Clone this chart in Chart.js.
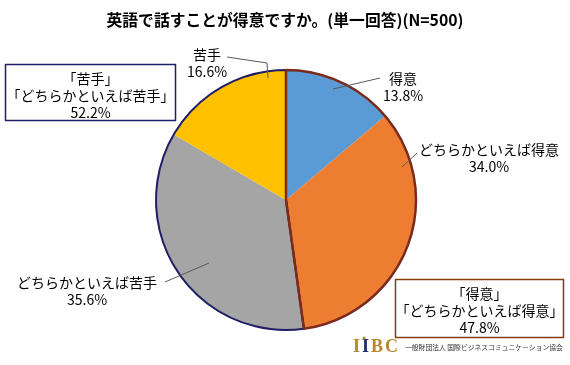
<!DOCTYPE html>
<html lang="ja">
<head>
<meta charset="UTF-8">
<title>英語で話すことが得意ですか。</title>
<script src="https://cdn.jsdelivr.net/npm/chart.js"></script>
<style>
  html, body { margin: 0; padding: 0; background: #fff; }
  #wrap { width: 570px; height: 365px; }
</style>
</head>
<body>
<div id="wrap"><canvas id="chart" width="570" height="365"></canvas></div>
<script>
const titleText = '英語で話すことが得意ですか。(単一回答)(N=500)';
const categories = ['得意', 'どちらかといえば得意', 'どちらかといえば苦手', '苦手'];
const shares = [13.8, 34.0, 35.6, 16.6];
const sliceColors = ['#5B9BD5', '#ED7D31', '#A5A5A5', '#FFC000'];
const groupTitles = [['「得意」', '「どちらかといえば得意」'], ['「苦手」', '「どちらかといえば苦手」']];
const groupShares = [47.8, 52.2];

const FONT = '"Noto Sans CJK JP", "Noto Sans", sans-serif';

// label placement relative to pie centre: text centre, leader start, leader bend/end
const labelSpots = [
  { tx: 117, ty: -121, line: [[47, -111], [94, -122]] },
  { tx: 203, ty: -50, line: [[116, -33], [131, -47]] },
  { tx: -199, ty: 83, line: [[-77, 63], [-121, 82]] },
  { tx: -79, ty: -145, line: [[-18, -122], [-19, -137], [-59, -143]] }
];

const overlay = {
  id: 'overlay',
  afterDraw(chart) {
    const ctx = chart.ctx;
    const arcs = chart.getDatasetMeta(0).data;
    const cx = arcs[0].x, cy = arcs[0].y, r = arcs[0].outerRadius;
    ctx.save();

    // group outlines
    const outline = (a0, a1, color, w) => {
      ctx.beginPath();
      ctx.moveTo(cx, cy);
      ctx.arc(cx, cy, r, a0, a1);
      ctx.closePath();
      ctx.strokeStyle = color;
      ctx.lineWidth = w;
      ctx.lineJoin = 'round';
      ctx.stroke();
    };
    outline(arcs[2].startAngle, arcs[3].endAngle, '#1F1F66', 2);
    outline(arcs[0].startAngle, arcs[1].endAngle, '#7B2A1E', 2.5);

    // title
    ctx.fillStyle = '#000';
    ctx.font = 'bold 15.8px ' + FONT;
    ctx.textAlign = 'center';
    ctx.textBaseline = 'middle';
    ctx.fillText(titleText, 285, 20);

    // slice labels with leader lines
    ctx.font = '14px ' + FONT;
    ctx.strokeStyle = '#595959';
    ctx.lineWidth = 1;
    labelSpots.forEach((s, i) => {
      ctx.beginPath();
      s.line.forEach((p, j) => {
        if (j === 0) ctx.moveTo(cx + p[0], cy + p[1]);
        else ctx.lineTo(cx + p[0], cy + p[1]);
      });
      ctx.stroke();
      ctx.fillStyle = '#000';
      ctx.fillText(categories[i], cx + s.tx, cy + s.ty);
      ctx.fillText(shares[i].toFixed(1) + '%', cx + s.tx, cy + s.ty + 17);
    });

    // group boxes
    const box = (x, y, w, h, color, lines) => {
      ctx.fillStyle = '#fff';
      ctx.fillRect(x, y, w, h);
      ctx.strokeStyle = color;
      ctx.lineWidth = 1.5;
      ctx.strokeRect(x, y, w, h);
      ctx.fillStyle = '#000';
      lines.forEach((t, k) => ctx.fillText(t, x + w / 2, y + 14.5 + k * 16.8));
    };
    box(395.5, 279.5, 168, 58, '#843C0C', [...groupTitles[0], groupShares[0].toFixed(1) + '%']);
    box(5.5, 64.5, 170, 56, '#1F1F66', [...groupTitles[1], groupShares[1].toFixed(1) + '%']);

    // logo
    ctx.textAlign = 'left';
    ctx.font = 'bold 18px "Liberation Serif", serif';
    const logo = [['I', '#B8862B'], ['I', '#1F2A6B'], ['B', '#B8862B'], ['C', '#B8862B']];
    let lx = 353;
    logo.forEach(([ch, col]) => {
      ctx.fillStyle = col;
      ctx.fillText(ch, lx, 347);
      lx += ctx.measureText(ch).width + 2;
    });
    ctx.fillStyle = '#B8862B';
    ctx.beginPath();
    ctx.arc(364, 338, 1.6, 0, Math.PI * 2);
    ctx.fill();
    ctx.fillStyle = '#333';
    ctx.font = '6.8px ' + FONT;
    ctx.fillText('一般財団法人 国際ビジネスコミュニケーション協会', 405, 347);

    ctx.restore();
  }
};

new Chart(document.getElementById('chart'), {
  type: 'pie',
  data: {
    labels: categories,
    datasets: [{
      data: shares,
      backgroundColor: sliceColors,
      borderWidth: 0
    }]
  },
  options: {
    responsive: false,
    animation: false,
    layout: { padding: { top: 70, bottom: 35, left: 156, right: 154 } },
    plugins: {
      legend: { display: false },
      title: { display: false },
      tooltip: { enabled: false }
    }
  },
  plugins: [overlay]
});
</script>
</body>
</html>
